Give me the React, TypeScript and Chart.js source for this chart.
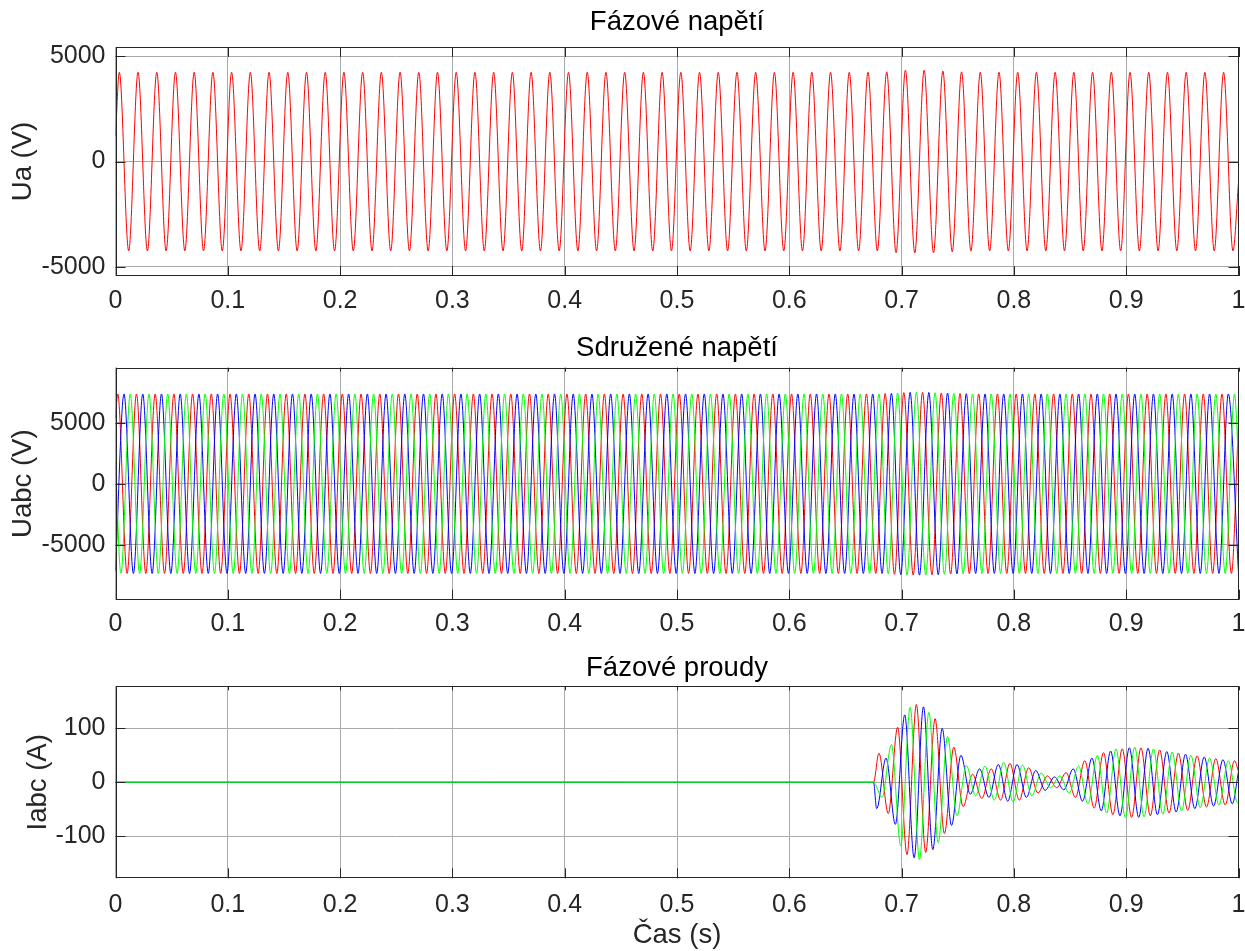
import React, { useEffect, useRef } from 'react';
import { Chart, registerables } from 'chart.js';

Chart.register(...registerables);

const FONT = '"Liberation Sans", Arial, Helvetica, sans-serif';
const HALF_PERIOD = 1 / 120; // 60 Hz waveforms: one extremum every half period

// ---------- axes ----------
const timeTicks = [0, 0.1, 0.2, 0.3, 0.4, 0.5, 0.6, 0.7, 0.8, 0.9, 1];
const timeTickLabels = ['0', '0.1', '0.2', '0.3', '0.4', '0.5', '0.6', '0.7', '0.8', '0.9', '1'];
const uaTicks = [-5000, 0, 5000];
const uabcTicks = [-5000, 0, 5000];
const iabcTicks = [-100, 0, 100];

const panelTitles = ['Fázové napětí', 'Sdružené napětí', 'Fázové proudy'];
const yTitles = ['Ua (V)', 'Uabc (V)', 'Iabc (A)'];
const xTitle = 'Čas (s)';

// ---------- phase voltage Ua (successive extrema) ----------
const uaStartValue = 1200;
const uaFirstExtremumTime = 0.0034;
const uaExtrema = [
  4240, -4240, 4240, -4240, 4240, -4240, 4240, -4240, 4240, -4240, 4240, -4240,
  4240, -4240, 4240, -4240, 4240, -4240, 4240, -4240, 4240, -4240, 4240, -4240,
  4240, -4240, 4240, -4240, 4240, -4240, 4240, -4240, 4240, -4240, 4240, -4240,
  4240, -4240, 4240, -4240, 4240, -4240, 4240, -4240, 4240, -4240, 4240, -4240,
  4240, -4240, 4240, -4240, 4240, -4240, 4240, -4240, 4240, -4240, 4240, -4240,
  4240, -4240, 4240, -4240, 4240, -4240, 4240, -4240, 4240, -4240, 4240, -4240,
  4240, -4240, 4240, -4240, 4240, -4240, 4240, -4240, 4240, -4240,
  4260, -4320, 4340, -4340, 4340, -4330, 4300, -4280, 4260, -4250,
  4240, -4240, 4240, -4240, 4240, -4240, 4240, -4240, 4240, -4240, 4240, -4240,
  4240, -4240, 4240, -4240, 4240, -4240, 4240, -4240, 4240, -4240, 4240, -4240,
  4240, -4240, 4240, -4240,
];
const uaEndValue = -1000;

// ---------- line voltages ----------
const uabStartValue = 5400;
const uabFirstExtremumTime = 0.002;
const uabExtrema = [
  7350, -7350, 7350, -7350, 7350, -7350, 7350, -7350, 7350, -7350, 7350, -7350,
  7350, -7350, 7350, -7350, 7350, -7350, 7350, -7350, 7350, -7350, 7350, -7350,
  7350, -7350, 7350, -7350, 7350, -7350, 7350, -7350, 7350, -7350, 7350, -7350,
  7350, -7350, 7350, -7350, 7350, -7350, 7350, -7350, 7350, -7350, 7350, -7350,
  7350, -7350, 7350, -7350, 7350, -7350, 7350, -7350, 7350, -7350, 7350, -7350,
  7350, -7350, 7350, -7350, 7350, -7350, 7350, -7350, 7350, -7350, 7350, -7350,
  7350, -7350, 7350, -7350, 7350, -7350, 7350, -7350, 7350, -7350,
  7380, -7420, 7460, -7480, 7480, -7460, 7430, -7400, 7380, -7360,
  7350, -7350, 7350, -7350, 7350, -7350, 7350, -7350, 7350, -7350, 7350, -7350,
  7350, -7350, 7350, -7350, 7350, -7350, 7350, -7350, 7350, -7350, 7350, -7350,
  7350, -7350, 7350, -7350,
];
const uabEndValue = 5000;

const ubcStartValue = -7100;
const ubcFirstExtremumTime = 0.0076;
const ubcExtrema = [
  7350, -7350, 7350, -7350, 7350, -7350, 7350, -7350, 7350, -7350, 7350, -7350,
  7350, -7350, 7350, -7350, 7350, -7350, 7350, -7350, 7350, -7350, 7350, -7350,
  7350, -7350, 7350, -7350, 7350, -7350, 7350, -7350, 7350, -7350, 7350, -7350,
  7350, -7350, 7350, -7350, 7350, -7350, 7350, -7350, 7350, -7350, 7350, -7350,
  7350, -7350, 7350, -7350, 7350, -7350, 7350, -7350, 7350, -7350, 7350, -7350,
  7350, -7350, 7350, -7350, 7350, -7350, 7350, -7350, 7350, -7350, 7350, -7350,
  7350, -7350, 7350, -7350, 7350, -7350, 7350, -7350, 7350, -7350,
  7400, -7440, 7480, -7490, 7470, -7450, 7420, -7390, 7370, -7350,
  7350, -7350, 7350, -7350, 7350, -7350, 7350, -7350, 7350, -7350, 7350, -7350,
  7350, -7350, 7350, -7350, 7350, -7350, 7350, -7350, 7350, -7350, 7350, -7350,
  7350, -7350, 7350,
];
const ubcEndValue = -7300;

const ucaStartValue = 1800;
const ucaFirstExtremumTime = 0.0048;
const ucaExtrema = [
  -7350, 7350, -7350, 7350, -7350, 7350, -7350, 7350, -7350, 7350, -7350, 7350,
  -7350, 7350, -7350, 7350, -7350, 7350, -7350, 7350, -7350, 7350, -7350, 7350,
  -7350, 7350, -7350, 7350, -7350, 7350, -7350, 7350, -7350, 7350, -7350, 7350,
  -7350, 7350, -7350, 7350, -7350, 7350, -7350, 7350, -7350, 7350, -7350, 7350,
  -7350, 7350, -7350, 7350, -7350, 7350, -7350, 7350, -7350, 7350, -7350, 7350,
  -7350, 7350, -7350, 7350, -7350, 7350, -7350, 7350, -7350, 7350, -7350, 7350,
  -7350, 7350, -7350, 7350, -7350, 7350, -7350, 7350, -7350, 7350,
  -7380, 7420, -7470, 7490, -7480, 7450, -7420, 7390, -7370, 7350,
  -7350, 7350, -7350, 7350, -7350, 7350, -7350, 7350, -7350, 7350, -7350, 7350,
  -7350, 7350, -7350, 7350, -7350, 7350, -7350, 7350, -7350, 7350, -7350, 7350,
  -7350, 7350, -7350, 7350,
];
const ucaEndValue = 1800;

// ---------- phase currents (zero until the switching instant) ----------
const currentOnsetTime = 0.675;
const iaFirstExtremumTime = 0.6798;
const iaExtrema = [
  54, -58, 102, -134, 144, -130, 118, -95, 65, -45,
  15, -30, 25, -33, 35, -33, 27, -20, 12, -10,
  18, -28, 40, -48, 55, -60, 62, -65, 64, -62,
  60, -57, 54, -52, 49, -46, 44, -42, 40,
];
const iaEndValue = 20;

const ibFirstExtremumTime = 0.6778;
const ibExtrema = [
  -49, 45, -78, 125, -140, 140, -125, 100, -80, 50,
  -22, 25, -28, 33, -35, 33, -28, 22, -15, 10,
  -14, 25, -35, 45, -53, 58, -62, 64, -65, 63,
  -60, 57, -55, 52, -49, 47, -44, 42, -40,
];
const ibEndValue = 20;

const icFirstExtremumTime = 0.6826;
const icExtrema = [
  -28, 70, -118, 139, -143, 130, -112, 85, -62, 31,
  -25, 30, -33, 37, -36, 32, -25, 17, -10, 12,
  -20, 30, -40, 50, -57, 62, -65, 65, -64, 62,
  -59, 56, -53, 50, -47, 45, -42, 40, -38,
];
const icEndValue = -37;

// ---------- helpers ----------
type Pt = { x: number; y: number };

function waveform(lead: Pt[], firstT: number, extrema: number[], endValue: number): Pt[] {
  const pts: Pt[] = [...lead];
  extrema.forEach((v, i) => pts.push({ x: firstT + i * HALF_PERIOD, y: v }));
  pts.push({ x: 1, y: endValue });
  return pts;
}

const RED = '#ff0000';
const GREEN = '#00ff00';
const BLUE = '#0000ff';

function ds(data: Pt[], color: string) {
  return {
    data,
    borderColor: color,
    borderWidth: 1,
    pointRadius: 0,
    fill: false,
    cubicInterpolationMode: 'monotone' as const,
  };
}

const boxPlugin = {
  id: 'matlabBox',
  afterDatasetsDraw(chart: any, _args: any, opts: any) {
    const { ctx, chartArea: a, scales } = chart;
    const tl = 10;
    const topTl = opts.topTick ?? tl;
    ctx.save();
    ctx.strokeStyle = '#262626';
    ctx.lineWidth = 1;
    ctx.beginPath();
    scales.x.ticks.forEach((t: any) => {
      const px = Math.round(scales.x.getPixelForValue(t.value)) + 0.5;
      ctx.moveTo(px, a.bottom);
      ctx.lineTo(px, a.bottom - tl);
      ctx.moveTo(px, a.top);
      ctx.lineTo(px, a.top + topTl);
    });
    scales.y.ticks.forEach((t: any) => {
      const py = Math.round(scales.y.getPixelForValue(t.value)) + 0.5;
      ctx.moveTo(a.left, py);
      ctx.lineTo(a.left + tl, py);
      ctx.moveTo(a.right, py);
      ctx.lineTo(a.right - tl, py);
    });
    ctx.stroke();
    ctx.strokeRect(
      Math.round(a.left) + 0.5,
      Math.round(a.top) + 0.5,
      Math.round(a.right) - Math.round(a.left) - 1,
      Math.round(a.bottom) - Math.round(a.top) - 1
    );
    ctx.restore();
  },
};

interface PanelSpec {
  title: string;
  titlePad: { top: number; bottom: number };
  datasets: any[];
  yMin: number;
  yMax: number;
  yTicks: number[];
  yTitle: string;
  yTitlePad: number;
  xTickPad: number;
  xAxisHeight: number;
  xTitle?: string;
  topTick: number;
}

const TICK_SIZE = 25;
const LABEL_SIZE = 27.5;

function makeConfig(p: PanelSpec): any {
  return {
    type: 'line',
    data: { datasets: p.datasets },
    plugins: [boxPlugin],
    options: {
      animation: false,
      responsive: false,
      parsing: false,
      normalized: true,
      layout: { padding: { left: 0, right: 6.5, top: 0, bottom: 0 } },
      plugins: {
        legend: { display: false },
        tooltip: { enabled: false },
        title: {
          display: true,
          text: p.title,
          fullSize: false,
          color: '#000',
          font: { family: FONT, size: LABEL_SIZE, weight: 'normal', lineHeight: 1.2 },
          padding: p.titlePad,
        },
        matlabBox: { topTick: p.topTick },
      },
      scales: {
        x: {
          type: 'linear',
          min: 0,
          max: 1,
          afterBuildTicks: (s: any) => {
            s.ticks = timeTicks.map((v) => ({ value: v }));
          },
          afterFit: (s: any) => {
            s.height = p.xAxisHeight;
            s.paddingLeft = 0;
            s.paddingRight = 0;
          },
          grid: { color: '#a9a9a9', lineWidth: 1, drawTicks: false },
          border: { display: false },
          ticks: {
            autoSkip: false,
            maxRotation: 0,
            padding: p.xTickPad,
            color: '#262626',
            font: { family: FONT, size: TICK_SIZE, lineHeight: 1.2 },
            callback: (v: number) => {
              const i = timeTicks.indexOf(v);
              return i >= 0 ? timeTickLabels[i] : String(v);
            },
          },
          title: p.xTitle
            ? {
                display: true,
                text: p.xTitle,
                color: '#262626',
                font: { family: FONT, size: LABEL_SIZE, lineHeight: 1 },
                padding: { top: 0, bottom: 2.2 },
              }
            : { display: false },
        },
        y: {
          type: 'linear',
          min: p.yMin,
          max: p.yMax,
          afterBuildTicks: (s: any) => {
            s.ticks = p.yTicks.map((v) => ({ value: v }));
          },
          afterFit: (s: any) => {
            s.width = 115.5;
            s.paddingTop = 0;
            s.paddingBottom = 0;
          },
          grid: { color: '#a9a9a9', lineWidth: 1, drawTicks: false },
          border: { display: false },
          ticks: {
            padding: 10,
            color: '#262626',
            font: { family: FONT, size: TICK_SIZE, lineHeight: 1.2 },
            callback: (v: number) => String(v),
          },
          title: {
            display: true,
            text: p.yTitle,
            color: '#262626',
            font: { family: FONT, size: LABEL_SIZE, lineHeight: 1.2 },
            padding: { top: p.yTitlePad, bottom: 0 },
          },
        },
      },
    },
  };
}

function Panel({ spec, top, height }: { spec: () => PanelSpec; top: number; height: number }) {
  const ref = useRef<HTMLCanvasElement>(null);
  useEffect(() => {
    const chart = new Chart(ref.current as HTMLCanvasElement, makeConfig(spec()));
    return () => chart.destroy();
  }, []);
  return (
    <canvas
      ref={ref}
      width={1245}
      height={height}
      style={{ position: 'absolute', left: 0, top, width: 1245, height }}
    />
  );
}

const zeroLead = (): Pt[] => [
  { x: 0, y: 0 },
  { x: currentOnsetTime, y: 0 },
];

// dataset index 0 is painted on top in Chart.js, so green comes first
const specA = (): PanelSpec => ({
  title: panelTitles[0],
  titlePad: { top: 5.5, bottom: 8.5 },
  datasets: [ds(waveform([{ x: 0, y: uaStartValue }], uaFirstExtremumTime, uaExtrema, uaEndValue), RED)],
  yMin: -5430,
  yMax: 5440,
  yTicks: uaTicks,
  yTitle: yTitles[0],
  yTitlePad: 6.5,
  xTickPad: 10.5,
  xAxisHeight: 44,
  topTick: 10,
});

const specB = (): PanelSpec => ({
  title: panelTitles[1],
  titlePad: { top: 11.5, bottom: 3.2 },
  datasets: [
    ds(waveform([{ x: 0, y: ucaStartValue }], ucaFirstExtremumTime, ucaExtrema, ucaEndValue), GREEN),
    ds(waveform([{ x: 0, y: ubcStartValue }], ubcFirstExtremumTime, ubcExtrema, ubcEndValue), BLUE),
    ds(waveform([{ x: 0, y: uabStartValue }], uabFirstExtremumTime, uabExtrema, uabEndValue), RED),
  ],
  yMin: -9500,
  yMax: 9500,
  yTicks: uabcTicks,
  yTitle: yTitles[1],
  yTitlePad: 6.5,
  xTickPad: 9.3,
  xAxisHeight: 40.3,
  topTick: 4,
});

const specC = (): PanelSpec => ({
  title: panelTitles[2],
  titlePad: { top: 11.5, bottom: 1.8 },
  datasets: [
    ds(waveform(zeroLead(), icFirstExtremumTime, icExtrema, icEndValue), GREEN),
    ds(waveform(zeroLead(), ibFirstExtremumTime, ibExtrema, ibEndValue), BLUE),
    ds(waveform(zeroLead(), iaFirstExtremumTime, iaExtrema, iaEndValue), RED),
  ],
  yMin: -178,
  yMax: 178,
  yTicks: iabcTicks,
  yTitle: yTitles[2],
  yTitlePad: 21.5,
  xTickPad: 12.2,
  xAxisHeight: 72.7,
  xTitle,
  topTick: 4,
});

export default function App() {
  return (
    <div
      style={{
        position: 'absolute',
        left: 0,
        top: 0,
        width: 1245,
        height: 951,
        background: '#ffffff',
        overflow: 'hidden',
      }}
    >
      <Panel spec={specA} top={0} height={320} />
      <Panel spec={specB} top={320} height={320} />
      <Panel spec={specC} top={640} height={311} />
    </div>
  );
}
